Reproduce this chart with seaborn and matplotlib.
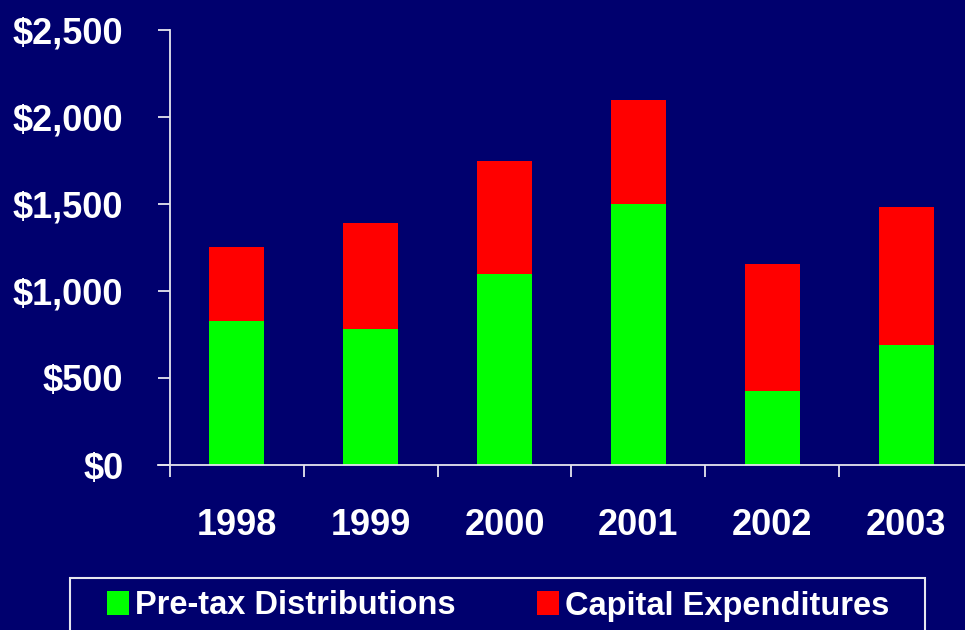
import pandas as pd
import matplotlib.pyplot as plt
import seaborn as sns
from matplotlib.patches import Patch, Rectangle


years = ['1998', '1999', '2000', '2001', '2002', '2003']
pretax = [830, 780, 1100, 1500, 425, 690]
capex = [420, 610, 650, 600, 730, 790]

df = pd.DataFrame({'year': years, 'pretax': pretax, 'capex': capex})
df['total'] = df['pretax'] + df['capex']

navy = '#00006e'
green = '#00ff00'
red = '#ff0000'
axis_col = '#e6e6ee'

sns.set_style('dark')
plt.rcParams['font.family'] = ['Liberation Sans', 'DejaVu Sans']
plt.rcParams['font.weight'] = 'bold'

fig = plt.figure(figsize=(9.65, 6.3), dpi=100, facecolor=navy)
ax = fig.add_axes([170 / 965, 1 - 465 / 630, 803 / 965, 435 / 630])
ax.set_facecolor(navy)

# stacked bars: total in red, pre-tax in green over it
sns.barplot(data=df, x='year', y='total', color=red, width=0.41,
            saturation=1, ax=ax, linewidth=0)
sns.barplot(data=df, x='year', y='pretax', color=green, width=0.41,
            saturation=1, ax=ax, linewidth=0)

ax.set_xlim(-0.5, len(years) - 0.5)
ax.set_ylim(0, 2500)
ax.set_yticks(range(0, 2501, 500))
ax.set_yticklabels([f'${v:,}' for v in range(0, 2501, 500)])
ax.set_xlabel('')
ax.set_ylabel('')
ax.grid(False)

ax.set_xticks(range(len(years)))
ax.set_xticklabels(years)
ax.set_xticks([i - 0.5 for i in range(len(years) + 1)], minor=True)
ax.tick_params(axis='x', which='major', length=0, pad=31, labelsize=26,
               labelcolor='white', bottom=True)
ax.tick_params(axis='x', which='minor', length=8.6, width=1.3,
               color=axis_col, direction='out', bottom=True)
ax.tick_params(axis='y', length=8.6, width=1.3, color=axis_col, pad=25,
               labelsize=26, labelcolor='white', left=True)

for side in ['top', 'right']:
    ax.spines[side].set_visible(False)
for side in ['left', 'bottom']:
    ax.spines[side].set_visible(True)
    ax.spines[side].set_color(axis_col)
    ax.spines[side].set_linewidth(1.3)
ax.spines['bottom'].set_bounds(-0.5 - 12 / 134, len(years) - 0.5)

handles = [Patch(facecolor=green, edgecolor='none', label='Pre-tax Distributions'),
           Patch(facecolor=red, edgecolor='none', label='Capital Expenditures')]
leg = fig.legend(handles=handles, loc='center left', ncol=2, frameon=False,
                 bbox_to_anchor=(91 / 965, 1 - 606 / 630),
                 handlelength=0.65, handleheight=0.75,
                 handletextpad=0.2, columnspacing=2.5, borderpad=0,
                 prop={'weight': 'bold', 'size': 23.5})
for t in leg.get_texts():
    t.set_color('white')

fig.patches.append(Rectangle((70 / 965, -0.05), 855 / 965, 0.05 + 52 / 630,
                             transform=fig.transFigure, fill=False,
                             edgecolor=axis_col, linewidth=1.5))

fig.savefig('out.png', dpi=100, facecolor=navy)
